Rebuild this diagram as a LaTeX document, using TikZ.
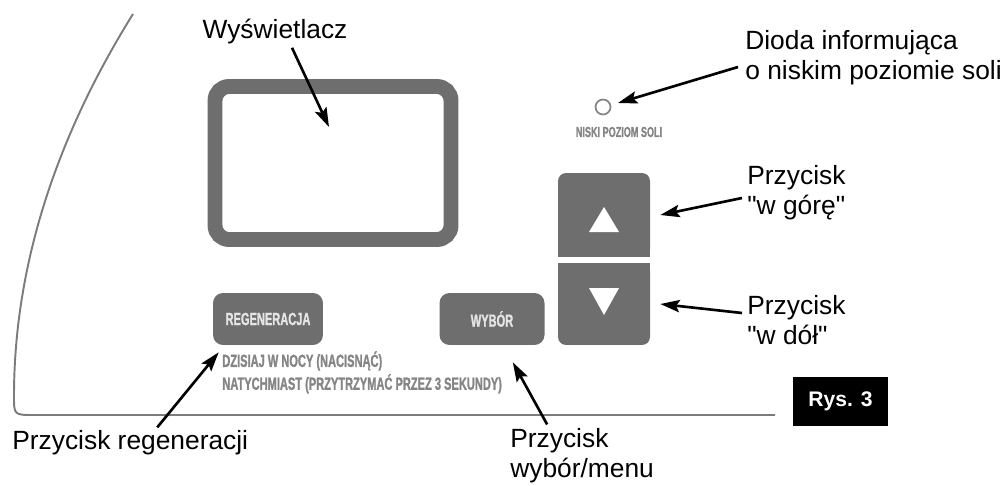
\documentclass[tikz,border=0pt]{standalone}
\usepackage{fontspec}
\setmainfont{Liberation Sans}[Ligatures=TeXOff]
\newfontfamily\panelfont{Liberation Sans Bold}[FakeStretch=0.63,FakeBold=1.2]
\usetikzlibrary{arrows.meta}
\definecolor{panelgray}{HTML}{6E6E6E}
\definecolor{rimgray}{HTML}{7C7C7C}
\definecolor{printgray}{HTML}{858585}
\definecolor{keytext}{HTML}{E4E4E4}

\begin{document}
\begin{tikzpicture}
  [x=0.02cm,y=-0.02cm,every node/.style={inner sep=0pt}]
  \tikzstyle{callout} = [font=\fontsize{15}{17}\selectfont,align=left]
  \tikzstyle{keybtn} = [fill=panelgray,rounded corners=0.2cm,text=keytext,font=\panelfont\fontsize{10}{11}\selectfont]
  \tikzstyle{printed} = [text=printgray,align=left,font=\panelfont\fontsize{10}{13}\selectfont]
  \tikzstyle{pointer} = [line width=1.5pt,-{Stealth[length=11pt,width=7pt,inset=2pt]}]
  \useasboundingbox (0,0) rectangle (1006,486);

  % housing edge
  \draw[rimgray,line width=1.1pt] (133,14) .. controls (42,160) and (14,290) .. (14,396)
    .. controls (14,415) .. (34,415) -- (775,415);

  % display
  \node[draw=panelgray,line width=8.5pt,rounded corners=0.28cm,minimum width=4.72cm,minimum height=3.06cm] (disp) at (333,163) {};

  % keys
  \node[keybtn,minimum width=2.2cm,minimum height=1.04cm] (regen) at (268,319) {REGENERACJA};
  \node[keybtn,minimum width=2.1cm,minimum height=1.04cm] (wybor) at (492,319) {WYBÓR};
  \node[printed,anchor=north west] (note) at (222,351) {DZISIAJ W NOCY (NACISNĄĆ)\\NATYCHMIAST (PRZYTRZYMAĆ PRZEZ 3 SEKUNDY)};

  \node[keybtn,rounded corners=0.16cm,minimum width=1.84cm,minimum height=1.68cm] (up) at (604,215) {};
  \fill[panelgray] (up.south west) rectangle (up.east);
  \node[keybtn,rounded corners=0.16cm,minimum width=1.84cm,minimum height=1.64cm] (down) at (604,304) {};
  \fill[panelgray] (down.north west) rectangle (down.east);
  \fill[white] (604,207) -- (619,232) -- (589,232) -- cycle;
  \fill[white] (589,288) -- (619,288) -- (604,315) -- cycle;

  % salt led
  \node[circle,draw=printgray,line width=1pt,minimum size=0.3cm] (led) at (603,107) {};
  \node[printed,font=\panelfont\fontsize{8.2}{9}\selectfont] (ledtxt) at (619,132) {NISKI POZIOM SOLI};

  \node[fill=black,text=white,font=\bfseries\fontsize{12}{14}\selectfont,minimum width=1.9cm,minimum height=0.98cm] (rys) at (840.5,401.5) {Rys. 3};

  % callouts
  \node[callout] (wys) at (275,32) {Wyświetlacz};
  \node[callout,anchor=west] (dioda) at (745,58) {Dioda informująca\\o niskim poziomie soli};
  \node[callout,anchor=west] (upl) at (747,193) {Przycisk\\"w górę"};
  \node[callout,anchor=west] (downl) at (747,320) {Przycisk\\"w dół"};
  \node[callout,anchor=west] (regl) at (12,443) {Przycisk regeneracji};
  \node[callout,anchor=west] (wybl) at (510,456) {Przycisk\\wybór/menu};

  \coordinate (wysout) at ([xshift=0.34cm,yshift=-0.06cm]wys.south);
  \coordinate (diodaout) at ([xshift=-0.14cm,yshift=-0.18cm]dioda.west);
  \coordinate (upout) at ([xshift=-0.1cm,yshift=-0.1cm]upl.west);
  \coordinate (downout) at ([xshift=-0.1cm,yshift=0.14cm]downl.west);
  \coordinate (regout) at ([xshift=0.54cm,yshift=0.06cm]regl.north);
  \coordinate (wybout) at ([xshift=-0.7cm,yshift=0.08cm]wybl.north);

  \coordinate (dispin) at ([xshift=-0.08cm,yshift=0.72cm]disp.center);
  \coordinate (ledin) at ([xshift=0.3cm,yshift=0.08cm]led.center);
  \coordinate (upin) at ([xshift=0.2cm]up.east);
  \coordinate (downin) at ([xshift=0.2cm]down.east);
  \coordinate (regenin) at ([xshift=0.12cm,yshift=-0.14cm]regen.south west);
  \coordinate (wyborin) at ([xshift=-0.64cm,yshift=-0.34cm]wybor.south east);

  \foreach \source/\dest in {wysout/dispin,diodaout/ledin,upout/upin,downout/downin,regout/regenin,wybout/wyborin}
    \draw[pointer] (\source) -- (\dest);
\end{tikzpicture}
\end{document}
